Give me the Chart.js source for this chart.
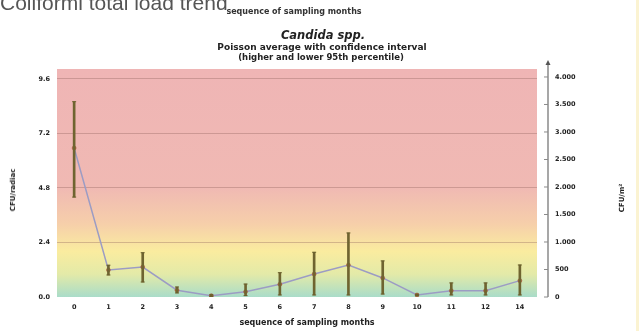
<!DOCTYPE html>
<html>
<head>
<meta charset="utf-8">
<script src="https://cdn.jsdelivr.net/npm/chart.js@4.4.1/dist/chart.umd.min.js"></script>
<style>
  html, body { margin: 0; padding: 0; background: #fff; }
  #wrap { position: relative; width: 639px; height: 331px; overflow: hidden; font-family: "DejaVu Sans", sans-serif; }
  #wrap canvas { position: absolute; left: 0; top: 0; }
  .t { position: absolute; white-space: nowrap; color: #222; font-weight: bold; transform: translate(-50%, -50%); }
  .rot { transform: translate(-50%, -50%) rotate(-90deg); }
</style>
</head>
<body>
<div id="wrap">
  <canvas id="c" width="639" height="331"></canvas>
  <div style="position:absolute;left:0;top:-9px;font-family:'Liberation Sans',Arial,sans-serif;font-size:21px;color:#555;white-space:nowrap;">Coliformi total load trend</div>
  <div class="t" style="left:294px;top:11px;font-size:8px;color:#333;">sequence of sampling months</div>
  <div class="t" style="left:323px;top:35px;font-size:11.5px;font-style:italic;">Candida spp.</div>
  <div class="t" style="left:322px;top:47px;font-size:9px;">Poisson average with confidence interval</div>
  <div class="t" style="left:321px;top:57px;font-size:8.5px;">(higher and lower 95th percentile)</div>
  <div class="t" style="left:307px;top:322px;font-size:8px;">sequence of sampling months</div>
  <div class="t rot" style="left:13px;top:190px;font-size:7px;">CFU/radiac</div>
  <div class="t rot" style="left:622px;top:198px;font-size:7px;">CFU/m²</div>
  <div style="position:absolute;left:636px;top:0;width:3px;height:331px;background:#fbf3d2;"></div>
</div>
<script>
const months = ['0', '1', '2', '3', '4', '5', '6', '7', '8', '9', '10', '11', '12', '14'];
const meanValues = [6.56, 1.19, 1.32, 0.30, 0.06, 0.23, 0.56, 1.01, 1.41, 0.84, 0.09, 0.28, 0.28, 0.72];
const upperValues = [8.6, 1.40, 1.95, 0.44, 0.10, 0.57, 1.07, 1.97, 2.82, 1.59, 0.12, 0.62, 0.62, 1.41];
const lowerValues = [4.4, 0.97, 0.66, 0.18, 0.03, 0.06, 0.09, 0.09, 0.09, 0.13, 0.06, 0.09, 0.09, 0.09];
const leftTicks = [0, 2.4, 4.8, 7.2, 9.6];
const leftTickLabels = ['0.0', '2.4', '4.8', '7.2', '9.6'];
const rightTicks = [0, 500, 1000, 1500, 2000, 2500, 3000, 3500, 4000];
const rightTickLabels = ['0', '500', '1.000', '1.500', '2.000', '2.500', '3.000', '3.500', '4.000'];

const tickFont = { family: '"DejaVu Sans", sans-serif', size: 6.5, weight: 'bold' };

// gradient behind the plot area
const zoneBackground = {
  id: 'zoneBackground',
  beforeDraw(chart) {
    const { ctx, chartArea: a } = chart;
    const g = ctx.createLinearGradient(0, a.top, 0, a.bottom);
    g.addColorStop(0, '#efb5b5');
    g.addColorStop(0.52, '#f0b9b3');
    g.addColorStop(0.68, '#f6cfaa');
    g.addColorStop(0.8, '#faec9f');
    g.addColorStop(0.9, '#e3eaa8');
    g.addColorStop(1, '#a9dcc9');
    ctx.save();
    ctx.fillStyle = g;
    ctx.fillRect(a.left, a.top, a.right - a.left, a.bottom - a.top);
    ctx.restore();
  }
};

// right axis line with arrow, set off from the plot
const rightAxisLine = {
  id: 'rightAxisLine',
  afterDraw(chart) {
    const { ctx, chartArea: a } = chart;
    const s = chart.scales.y2;
    const x = a.right + 11;
    ctx.save();
    ctx.strokeStyle = '#8a8a8a';
    ctx.lineWidth = 1.5;
    ctx.beginPath();
    ctx.moveTo(x, a.bottom);
    ctx.lineTo(x, a.top - 6);
    ctx.stroke();
    ctx.lineWidth = 1;
    rightTicks.forEach(v => {
      const y = s.getPixelForValue(v);
      ctx.beginPath();
      ctx.moveTo(x - 4, y);
      ctx.lineTo(x, y);
      ctx.stroke();
    });
    ctx.fillStyle = '#555';
    ctx.beginPath();
    ctx.moveTo(x, a.top - 9);
    ctx.lineTo(x - 2.5, a.top - 4);
    ctx.lineTo(x + 2.5, a.top - 4);
    ctx.closePath();
    ctx.fill();
    ctx.restore();
  }
};

// small caps on the error bars
const barCaps = {
  id: 'barCaps',
  afterDatasetsDraw(chart) {
    const { ctx } = chart;
    const y = chart.scales.y;
    const x = chart.scales.x;
    ctx.save();
    ctx.strokeStyle = '#6a5f2c';
    ctx.lineWidth = 1;
    months.forEach((m, i) => {
      const px = x.getPixelForValue(i);
      [upperValues[i], lowerValues[i]].forEach(v => {
        const py = y.getPixelForValue(v);
        ctx.beginPath();
        ctx.moveTo(px - 2, py);
        ctx.lineTo(px + 2, py);
        ctx.stroke();
      });
    });
    ctx.restore();
  }
};

new Chart(document.getElementById('c').getContext('2d'), {
  data: {
    labels: months,
    datasets: [
      {
        type: 'line',
        data: meanValues,
        yAxisID: 'y',
        borderColor: '#9c9cc4',
        borderWidth: 1.5,
        pointRadius: 2,
        pointBackgroundColor: '#b0603c',
        pointBorderColor: '#9a5a3a',
        pointBorderWidth: 0.5,
        tension: 0,
        order: 2
      },
      {
        type: 'bar',
        data: lowerValues.map((l, i) => [l, upperValues[i]]),
        yAxisID: 'y',
        backgroundColor: '#6f6430',
        barThickness: 2,
        order: 1
      }
    ]
  },
  options: {
    responsive: false,
    animation: false,
    devicePixelRatio: 1,
    layout: { padding: { top: 69, left: 0, right: 0, bottom: 0 } },
    plugins: { legend: { display: false }, tooltip: { enabled: false }, title: { display: false } },
    scales: {
      x: {
        type: 'category',
        offset: true,
        grid: { display: false, drawTicks: false },
        border: { display: false },
        ticks: { font: tickFont, color: '#222', padding: 6, maxRotation: 0, autoSkip: false },
        afterFit: s => { s.height = 34; }
      },
      y: {
        position: 'left',
        min: 0,
        max: 10.04,
        afterBuildTicks: s => { s.ticks = leftTicks.map(v => ({ value: v })); },
        ticks: {
          font: tickFont,
          color: '#222',
          padding: 7,
          callback: (v, i) => leftTickLabels[i]
        },
        grid: {
          drawTicks: false,
          lineWidth: 1,
          color: c => c.tick && c.tick.value === 0 ? 'rgba(0,0,0,0)' : 'rgba(140,95,90,0.35)'
        },
        border: { display: false },
        afterFit: s => { s.width = 57; }
      },
      y2: {
        position: 'right',
        min: 0,
        max: 4145,
        afterBuildTicks: s => { s.ticks = rightTicks.map(v => ({ value: v })); },
        ticks: {
          font: tickFont,
          color: '#222',
          padding: 18,
          callback: (v, i) => rightTickLabels[i]
        },
        grid: { display: false, drawTicks: false },
        border: { display: false },
        afterFit: s => { s.width = 102; }
      }
    }
  },
  plugins: [zoneBackground, rightAxisLine, barCaps]
});
</script>
</body>
</html>
